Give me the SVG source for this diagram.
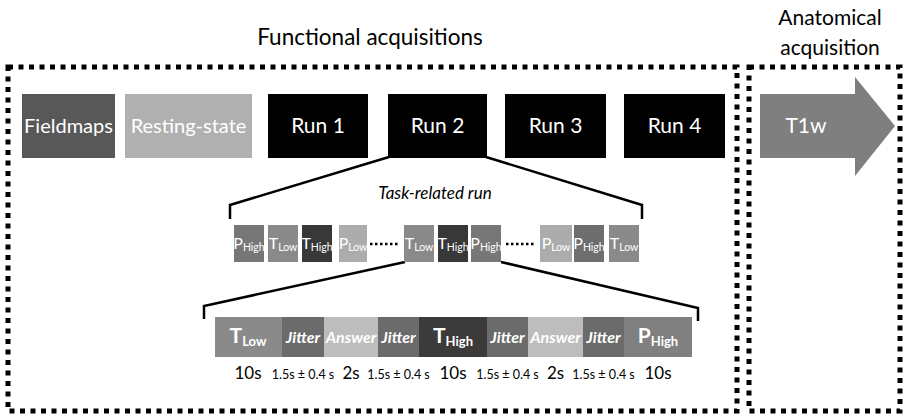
<svg xmlns="http://www.w3.org/2000/svg" width="904" height="418" viewBox="0 0 904 418">
<style>
text{font-family:Lato,"Liberation Sans",sans-serif;}
.frame{fill:none;stroke:#000;stroke-width:5;stroke-dasharray:5 5.5;}
.wt{fill:#fff;text-anchor:middle;}
.big{font-size:21px;}
.mid{font-size:20px;}
.blk{fill:#000;text-anchor:middle;}
.ln{fill:none;stroke:#000;stroke-width:2.5;stroke-linejoin:miter;}
.sm{font-size:16px;}
.sub{font-size:10.5px;}
.bsub{font-size:13px;}
.it{font-size:16px;font-style:italic;font-weight:bold;}
.dots{stroke:#000;stroke-width:2.5;stroke-dasharray:2.5 2.5;}
.dur{font-size:17px;}
.jit{font-size:12.5px;}
</style>
<rect width="904" height="418" fill="#fff"/>
<g id="titles">
<text class="blk" x="370" y="45" font-size="22.5">Functional acquisitions</text>
<text class="blk" x="830" y="25" font-size="21">Anatomical</text>
<text class="blk" x="830" y="55" font-size="21">acquisition</text>
</g>
<g id="frames">
<rect class="frame" x="8" y="67" width="729" height="344"/>
<rect class="frame" x="749" y="67" width="151" height="344"/>
</g>
<g id="connectors">
<polyline class="ln" points="389,157 230,205 230,219"/>
<polyline class="ln" points="486,157 642,205 642,219"/>
<polyline class="ln" points="405,262 204,306 204,319"/>
<polyline class="ln" points="501,262 698,308 698,321"/>
</g>
<g id="fieldmaps"><rect x="22" y="94" width="93" height="64" fill="#585858"/><text class="wt mid" x="68.5" y="133">Fieldmaps</text></g>
<g id="resting"><rect x="125" y="94" width="127" height="64" fill="#b0b0b0"/><text class="wt mid" x="188.5" y="133">Resting-state</text></g>
<g id="run1"><rect x="268" y="94" width="100" height="64" fill="#000"/><text class="wt big" x="318" y="133">Run 1</text></g>
<g id="run2"><rect x="388" y="94" width="99" height="64" fill="#000"/><text class="wt big" x="437.5" y="133">Run 2</text></g>
<g id="run3"><rect x="505" y="94" width="101" height="64" fill="#000"/><text class="wt big" x="555.5" y="133">Run 3</text></g>
<g id="run4"><rect x="624" y="94" width="101" height="64" fill="#000"/><text class="wt big" x="674.5" y="133">Run 4</text></g>
<g id="t1w"><polygon points="760,94 855,94 855,77 895,126 855,176 855,158 760,158" fill="#7f7f7f"/><text class="wt big" x="806" y="133">T1w</text></g>
<g id="task-run">
<text class="blk" x="435" y="199" font-size="17" font-style="italic">Task-related run</text>
<g id="m1"><rect x="234" y="225" width="30" height="37" fill="#777"/><text class="wt sm" x="249" y="249">P<tspan class="sub" dy="2">High</tspan></text></g>
<g id="m2"><rect x="268" y="225" width="30" height="37" fill="#8a8a8a"/><text class="wt sm" x="283" y="249">T<tspan class="sub" dy="2">Low</tspan></text></g>
<g id="m3"><rect x="302" y="225" width="30" height="37" fill="#383838"/><text class="wt sm" x="317" y="249">T<tspan class="sub" dy="2">High</tspan></text></g>
<g id="m4"><rect x="339" y="225" width="28" height="37" fill="#acacac"/><text class="wt sm" x="353" y="249">P<tspan class="sub" dy="2">Low</tspan></text></g>
<line class="dots" x1="370" y1="244" x2="400" y2="244"/>
<g id="m5"><rect x="404" y="225" width="30" height="37" fill="#8a8a8a"/><text class="wt sm" x="419" y="249">T<tspan class="sub" dy="2">Low</tspan></text></g>
<g id="m6"><rect x="438" y="225" width="30" height="37" fill="#383838"/><text class="wt sm" x="453" y="249">T<tspan class="sub" dy="2">High</tspan></text></g>
<g id="m7"><rect x="471" y="225" width="30" height="37" fill="#777"/><text class="wt sm" x="486" y="249">P<tspan class="sub" dy="2">High</tspan></text></g>
<line class="dots" x1="506" y1="244" x2="536" y2="244"/>
<g id="m8"><rect x="540" y="225" width="32" height="37" fill="#acacac"/><text class="wt sm" x="556" y="249">P<tspan class="sub" dy="2">Low</tspan></text></g>
<g id="m9"><rect x="574" y="225" width="30" height="37" fill="#6e6e6e"/><text class="wt sm" x="589" y="249">P<tspan class="sub" dy="2">High</tspan></text></g>
<g id="m10"><rect x="609" y="225" width="30" height="37" fill="#8a8a8a"/><text class="wt sm" x="624" y="249">T<tspan class="sub" dy="2">Low</tspan></text></g>
</g>
<g id="trial">
<g id="b1"><rect x="215" y="317" width="67" height="40" fill="#8a8a8a"/><text class="wt" x="248" y="343" font-size="21" font-weight="bold">T<tspan class="bsub" dy="3">Low</tspan></text></g>
<g id="b2"><rect x="282" y="317" width="42" height="40" fill="#6b6b6b"/><text class="wt it" x="303" y="343">Jitter</text></g>
<g id="b3"><rect x="324" y="317" width="54" height="40" fill="#bdbdbd"/><text class="wt it" x="351" y="343">Answer</text></g>
<g id="b4"><rect x="378" y="317" width="41" height="40" fill="#6b6b6b"/><text class="wt it" x="398.5" y="343">Jitter</text></g>
<g id="b5"><rect x="419" y="317" width="68" height="40" fill="#3b3b3b"/><text class="wt" x="453" y="343" font-size="21" font-weight="bold">T<tspan class="bsub" dy="3">High</tspan></text></g>
<g id="b6"><rect x="487" y="317" width="41" height="40" fill="#6b6b6b"/><text class="wt it" x="507.5" y="343">Jitter</text></g>
<g id="b7"><rect x="528" y="317" width="55" height="40" fill="#bdbdbd"/><text class="wt it" x="555.5" y="343">Answer</text></g>
<g id="b8"><rect x="583" y="317" width="41" height="40" fill="#6b6b6b"/><text class="wt it" x="603.5" y="343">Jitter</text></g>
<g id="b9"><rect x="624" y="317" width="68" height="40" fill="#808080"/><text class="wt" x="658" y="343" font-size="21" font-weight="bold">P<tspan class="bsub" dy="3">High</tspan></text></g>
<g id="durations">
<text class="blk dur" x="248" y="379">10s</text>
<text class="blk jit" x="303" y="379">1.5s ± 0.4 s</text>
<text class="blk dur" x="351" y="379">2s</text>
<text class="blk jit" x="398.5" y="379">1.5s ± 0.4 s</text>
<text class="blk dur" x="453" y="379">10s</text>
<text class="blk jit" x="507.5" y="379">1.5s ± 0.4 s</text>
<text class="blk dur" x="555.5" y="379">2s</text>
<text class="blk jit" x="603.5" y="379">1.5s ± 0.4 s</text>
<text class="blk dur" x="658" y="379">10s</text>
</g>
</g>
</svg>
